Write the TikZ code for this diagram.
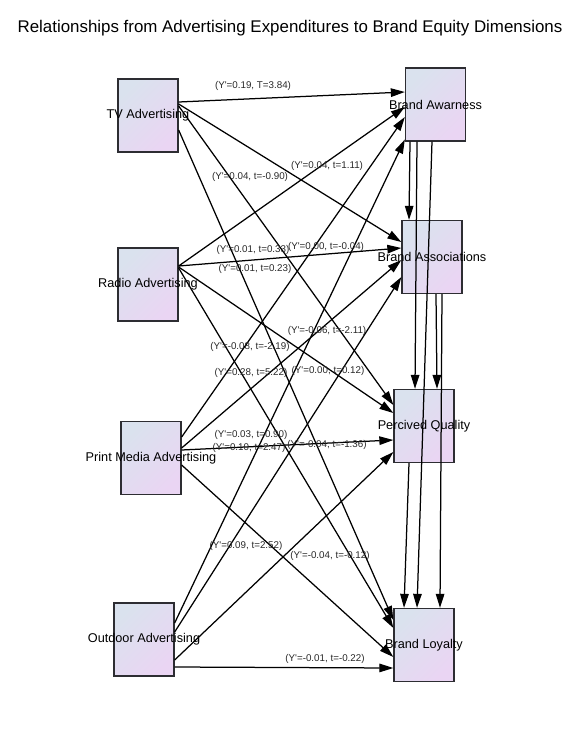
\documentclass[tikz,border=0pt]{standalone}
\usepackage{fontspec}
\setmainfont{Liberation Sans}
\usetikzlibrary{arrows.meta,calc}
\definecolor{boxA}{RGB}{218,226,238}
\definecolor{boxB}{RGB}{234,213,243}
\definecolor{boxline}{RGB}{45,45,50}
\definecolor{lbltext}{RGB}{40,40,40}
\newcommand{\yp}{Y\textquotesingle}
\begin{document}
\begin{tikzpicture}[x=1pt,y=-1pt,
  box/.style={draw=boxline, line width=1.3pt, minimum width=60pt, minimum height=73pt,
    inner sep=0pt, top color=boxA, bottom color=boxB, shading angle=45,
    font=\fontsize{12.7}{14}\selectfont},
  link/.style={line width=1.25pt, draw=black, -{Triangle[length=14pt,width=8.5pt]}},
  lbl/.style={font=\fontsize{9.8}{11}\selectfont, text=lbltext, inner sep=0pt}]
\useasboundingbox (0,0) rectangle (580,750);
\fill[white] (0,0) rectangle (580,750);
\node (title) at (290,28) {\fontsize{16.9}{20}\selectfont Relationships from Advertising Expenditures to Brand Equity Dimensions};
% sources
\node[box] (tv) at (148,115.5) {\makebox[0pt]{TV Advertising}};
\node[box] (radio) at (148,284.5) {\makebox[0pt]{Radio Advertising}};
\node[box] (print) at (151,458) {\makebox[0pt]{Print Media Advertising}};
\node[box] (outdoor) at (144,639.5) {\makebox[0pt]{Outdoor Advertising}};
% targets
\node[box] (ba) at (435.5,104.5) {\makebox[0pt]{Brand Awarness}};
\node[box] (bas) at (432,257) {\makebox[0pt]{Brand Associations}};
\node[box] (pq) at (424,426) {\makebox[0pt]{Percived Quality}};
\node[box] (bl) at (424,645) {\makebox[0pt]{Brand Loyalty}};
% TV
\draw[link] ([shift={(0,-13.5)}]tv.east) -- ([shift={(0,-12.5)}]ba.west);
\draw[link] ([shift={(0,-11.5)}]tv.east) -- ([shift={(0,-15)}]bas.west);
\draw[link] ([shift={(0,-9.5)}]tv.east) -- ([shift={(0,-21)}]pq.west);
\draw[link] ([shift={(0,14.5)}]tv.east) -- ([shift={(0,-25)}]bl.west);
% Radio
\draw[link] ([shift={(0,-18.5)}]radio.east) -- ([shift={(0,2.5)}]ba.west);
\draw[link] ([shift={(0,-18.5)}]radio.east) -- ([shift={(0,-9)}]bas.west);
\draw[link] ([shift={(0,-17.5)}]radio.east) -- ([shift={(0,-13)}]pq.west);
\draw[link] ([shift={(0,-16.5)}]radio.east) -- ([shift={(0,-17)}]bl.west);
% Print
\draw[link] ([shift={(0,-21)}]print.east) -- ([shift={(0,12.5)}]ba.west);
\draw[link] ([shift={(0,-10)}]print.east) -- ([shift={(0,3)}]bas.west);
\draw[link] ([shift={(0,-8)}]print.east) -- ([shift={(0,14)}]pq.west);
\draw[link] ([shift={(0,7)}]print.east) -- ([shift={(0,12)}]bl.west);
% Outdoor
\draw[link] ([shift={(0,-16.5)}]outdoor.east) -- ([shift={(0,35)}]ba.west);
\draw[link] ([shift={(0,-7.5)}]outdoor.east) -- ([shift={(0,20)}]bas.west);
\draw[link] ([shift={(0,20.5)}]outdoor.east) -- ([shift={(0,26)}]pq.west);
\draw[link] ([shift={(0,27.5)}]outdoor.east) -- ([shift={(0,23)}]bl.west);
% internal
\draw[link] ([shift={(-25.5,0)}]ba.south) -- ([shift={(-23,0)}]bas.north);
\draw[link] ([shift={(-18.5,0)}]ba.south) -- ([shift={(-9,0)}]pq.north);
\draw[link] ([shift={(-3.5,0)}]ba.south) -- ([shift={(-7,0)}]bl.north);
\draw[link] ([shift={(4,0)}]bas.south) -- ([shift={(13,0)}]pq.north);
\draw[link] ([shift={(10,0)}]bas.south) -- ([shift={(16,0)}]bl.north);
\draw[link] ([shift={(-15,0)}]pq.south) -- ([shift={(-20,0)}]bl.north);
% labels
\node[lbl] (l1) at (253,86) {(\yp=0.19, T=3.84)};
\node[lbl] (l2) at (327,166) {(\yp=0.04, t=1.11)};
\node[lbl] (l3) at (250,177) {(\yp=0.04, t=-0.90)};
\node[lbl] (l4) at (253,250) {(\yp=0.01, t=0.33)};
\node[lbl] (l5) at (326,247) {(\yp=0.00, t=-0.04)};
\node[lbl] (l6) at (255,269) {(\yp=0.01, t=0.23)};
\node[lbl] (l7) at (327,331) {(\yp=-0.06, t=-2.11)};
\node[lbl] (l8) at (250,347) {(\yp=-0.08, t=-2.19)};
\node[lbl] (l9) at (251,373) {(\yp=0.28, t=5.22)};
\node[lbl] (l10) at (328,371) {(\yp=0.00, t=0.12)};
\node[lbl] (l11) at (251,435) {(\yp=0.03, t=0.90)};
\node[lbl] (l12) at (249,448) {(\yp=0.10, t=2.47)};
\node[lbl] (l13) at (327,445) {(\yp=-0.04, t=-1.36)};
\node[lbl] (l14) at (246,546) {(\yp=0.09, t=2.52)};
\node[lbl] (l15) at (330,556) {(\yp=-0.04, t=-0.12)};
\node[lbl] (l16) at (325,659) {(\yp=-0.01, t=-0.22)};
\end{tikzpicture}
\end{document}
